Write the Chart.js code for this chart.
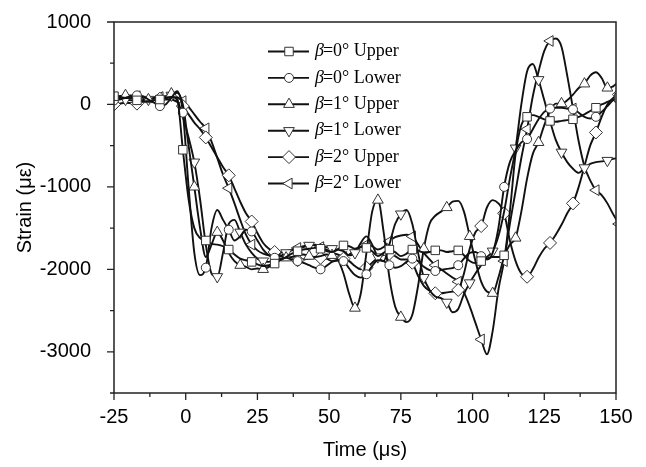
<!DOCTYPE html>
<html lang="en">
<head>
  <meta charset="UTF-8" />
  <title>Strain vs Time</title>
  <script src="https://cdn.jsdelivr.net/npm/chart.js"></script>
  <style>
    html, body { margin: 0; padding: 0; background: #fff; }
    #wrap { width: 646px; height: 467px; }
  </style>
</head>
<body>
<div id="wrap"><canvas id="strainChart" width="646" height="467"></canvas></div>

<script>
  // sample times (µs)
  const time = [-25, -23, -21, -19, -17, -15, -13, -11, -9, -7,
    -5, -3, -1, 1, 3, 5, 7, 9, 11, 13,
    15, 17, 19, 21, 23, 25, 27, 29, 31, 33,
    35, 37, 39, 41, 43, 45, 47, 49, 51, 53,
    55, 57, 59, 61, 63, 65, 67, 69, 71, 73,
    75, 77, 79, 81, 83, 85, 87, 89, 91, 93,
    95, 97, 99, 101, 103, 105, 107, 109, 111, 113,
    115, 117, 119, 121, 123, 125, 127, 129, 131, 133,
    135, 137, 139, 141, 143, 145, 147, 149, 151];

  const xTicks = [-25, 0, 25, 50, 75, 100, 125, 150];
  const yTicks = [-3000, -2000, -1000, 0, 1000];

  const seriesNames = ['β=0° Upper', 'β=0° Lower', 'β=1° Upper', 'β=1° Lower', 'β=2° Upper', 'β=2° Lower'];

  // strain (µε)
  const upper0 = [100, 90, 80, 70, 50, 40, 40, 50, 60, 70,
    90, 60, -550, -1150, -1500, -1620, -1650, -1690, -1700, -1720,
    -1760, -1820, -1870, -1890, -1910, -1940, -1960, -1950, -1930, -1890,
    -1850, -1810, -1780, -1760, -1750, -1740, -1750, -1780, -1790, -1760,
    -1710, -1720, -1750, -1730, -1740, -1780, -1840, -1800, -1760, -1790,
    -1840, -1810, -1760, -1770, -1800, -1790, -1770, -1770, -1790, -1780,
    -1770, -1830, -1900, -1925, -1900, -1870, -1850, -1850, -1830, -1300,
    -600, -250, -150, -130, -150, -180, -200, -210, -200, -190,
    -180, -150, -120, -80, -40, 0, 30, 60, 80];

  const lower0 = [50, 60, 80, 100, 110, 100, 60, 20, -20, 0,
    80, 160, -100, -1000, -1800, -2070, -1980, -1500, -1280, -1400,
    -1520, -1650, -1600, -1520, -1540, -1650, -1760, -1830, -1860, -1870,
    -1860, -1880, -1900, -1920, -1950, -1980, -2000, -1960, -1910, -1890,
    -1900, -1990, -2070, -2100, -2060, -1960, -1890, -1900, -1950, -1980,
    -1960, -1910, -1870, -1900, -1970, -2010, -2020, -2010, -1995, -1985,
    -1950, -1870, -1800, -1790, -1840, -1880, -1800, -1500, -1000, -700,
    -560, -460, -420, -300, -180, -90, -50, -40, -40, -50,
    -60, -100, -150, -170, -150, -90, -20, 50, 80];

  const upper1 = [80, 100, 110, 90, 60, 50, 60, 80, 90, 100,
    130, 140, 0, -500, -1000, -1500, -1850, -1700, -1550, -1650,
    -1800, -1900, -1950, -1970, -2000, -1990, -2000, -1970, -1920, -1880,
    -1860, -1850, -1830, -1820, -1840, -1850, -1840, -1820, -1830, -1880,
    -2050, -2300, -2470, -2300, -1800, -1300, -1160, -1550, -2100, -2450,
    -2580, -2640, -2550, -2200, -1750, -1450, -1350, -1300, -1250, -1180,
    -1170, -1300, -1600, -1900, -2150, -2270, -2290, -2100, -1850, -1700,
    -1620, -1300, -900, -600, -460, -250, -80, 10, 10, 50,
    120, 200, 250, 350, 390, 320, 200, 220, 280];

  const lower1 = [60, 70, 60, 50, 40, 50, 60, 70, 80, 90,
    110, 60, -150, -400, -700, -1150, -1700, -2050, -2090, -1800,
    -1450, -1400, -1550, -1700, -1800, -1870, -1900, -1910, -1880, -1840,
    -1800, -1770, -1750, -1730, -1710, -1700, -1710, -1730, -1750, -1760,
    -1780, -1830, -1800, -1680, -1600, -1700, -1850, -1900, -1700, -1450,
    -1330, -1280, -1450, -1800, -2100, -2250, -2330, -2350, -2400, -2520,
    -2480, -2300, -2165, -2050, -1950, -1850, -1780, -1600, -1300, -900,
    -530, 0, 400, 490, 300, 50, -200, -430, -580, -700,
    -780, -830, -770, -720, -700, -690, -680, -660, -650];

  const upper2 = [0, 10, 20, 15, 10, 30, 60, 70, 70, 60,
    60, 30, -20, -120, -220, -300, -400, -520, -640, -760,
    -860, -1020, -1180, -1320, -1420, -1560, -1680, -1750, -1790, -1830,
    -1870, -1885, -1890, -1880, -1870, -1860, -1860, -1870, -1900, -1890,
    -1870, -1900, -1960, -2000, -1980, -1920, -1860, -1825, -1810, -1840,
    -1880, -1880, -1920, -2080, -2200, -2260, -2290, -2290, -2280, -2270,
    -2250, -2050, -1750, -1550, -1475, -1250, -1160, -1200, -1320, -1650,
    -1900, -2050, -2090, -2000, -1860, -1750, -1680, -1580, -1460, -1320,
    -1200, -1000, -750, -500, -340, -150, 0, 80, 120];

  const lower2 = [85, 100, 110, 110, 100, 80, 70, 80, 90, 90,
    100, 90, 40, -30, -120, -210, -290, -450, -650, -850,
    -1016, -1200, -1400, -1580, -1700, -1770, -1810, -1830, -1820, -1800,
    -1780, -1760, -1740, -1720, -1700, -1710, -1730, -1760, -1800, -1820,
    -1850, -1820, -1770, -1730, -1700, -1720, -1760, -1730, -1660, -1610,
    -1590, -1580, -1600, -1700, -1800, -1880, -1950, -2000, -2050, -2100,
    -2150, -2280, -2450, -2650, -2850, -3030, -2750, -2250, -1900, -1450,
    -1050, -650, -300, 100, 400, 650, 770, 800, 700, 350,
    -50, -450, -750, -920, -1040, -1100, -1200, -1330, -1450];

  // marker style per series: shape, rotation, radius, which sample gets a marker
  const markers = [
    { style: 'rect', rot: 0, r: 6, phase: 0 },
    { style: 'circle', rot: 0, r: 4.5, phase: 0 },
    { style: 'triangle', rot: 0, r: 6.2, phase: 2 },
    { style: 'triangle', rot: 180, r: 6.2, phase: 2 },
    { style: 'rectRot', rot: 0, r: 6.5, phase: 0 },
    { style: 'triangle', rot: 270, r: 6.2, phase: 0 }
  ];

  const allSeries = [upper0, lower0, upper1, lower1, upper2, lower2];
  const sansFont = { family: "'Liberation Sans', Arial, sans-serif", size: 20 };

  const datasets = allSeries.map((vals, k) => {
    const m = markers[k];
    return {
      label: seriesNames[k],
      data: time.map((t, i) => ({ x: t, y: vals[i] })),
      borderColor: '#111',
      borderWidth: 1.9,
      cubicInterpolationMode: 'monotone',
      pointStyle: m.style,
      rotation: m.rot,
      pointRadius: ctx => (ctx.dataIndex % 4 === m.phase ? m.r : 0),
      pointBackgroundColor: '#fff',
      pointBorderColor: '#333',
      pointBorderWidth: 1
    };
  });

  // box frame, outward ticks, and the in-plot legend
  const decor = {
    id: 'decor',
    afterDatasetsDraw(chart) {
      const { ctx, chartArea: a, scales } = chart;
      ctx.save();
      ctx.strokeStyle = '#222';
      ctx.lineWidth = 1.5;
      ctx.strokeRect(a.left, a.top, a.right - a.left, a.bottom - a.top);

      ctx.lineWidth = 1.3;
      ctx.beginPath();
      for (let v = -25; v <= 150; v += 12.5) {
        const px = scales.x.getPixelForValue(v);
        const len = (v % 25 === 0) ? 7 : 4;
        ctx.moveTo(px, a.bottom);
        ctx.lineTo(px, a.bottom + len);
      }
      for (let v = -3500; v <= 1000; v += 500) {
        const py = scales.y.getPixelForValue(v);
        const len = (v % 1000 === 0) ? 7 : 4;
        ctx.moveTo(a.left, py);
        ctx.lineTo(a.left - len, py);
      }
      ctx.stroke();
      ctx.restore();
    },
    afterDraw(chart) {
      const ctx = chart.ctx;
      ctx.save();
      seriesNames.forEach((name, k) => {
        const y = 51.5 + 26.4 * k;
        const m = markers[k];
        ctx.strokeStyle = '#111';
        ctx.lineWidth = 1.9;
        ctx.beginPath();
        ctx.moveTo(268, y);
        ctx.lineTo(309, y);
        ctx.stroke();

        ctx.fillStyle = '#fff';
        ctx.strokeStyle = '#333';
        ctx.lineWidth = 1;
        Chart.helpers.drawPoint(ctx, { pointStyle: m.style, rotation: m.rot, radius: m.r, borderWidth: 1 }, 289, y);

        ctx.fillStyle = '#000';
        ctx.textBaseline = 'middle';
        ctx.textAlign = 'left';
        ctx.font = "italic 18px 'Liberation Serif', 'Times New Roman', serif";
        ctx.fillText(name.charAt(0), 315, y);
        const w = ctx.measureText(name.charAt(0)).width;
        ctx.font = "18px 'Liberation Serif', 'Times New Roman', serif";
        ctx.fillText(name.slice(1), 315 + w - 1, y);
      });
      ctx.restore();
    }
  };

  new Chart(document.getElementById('strainChart'), {
    type: 'line',
    data: { datasets: datasets },
    options: {
      responsive: false,
      animation: false,
      devicePixelRatio: 1,
      layout: { padding: { top: 22, right: 30, left: 0, bottom: 0 } },
      plugins: { legend: { display: false }, tooltip: { enabled: false } },
      scales: {
        x: {
          type: 'linear',
          min: -25,
          max: 150,
          afterBuildTicks: s => { s.ticks = xTicks.map(v => ({ value: v })); },
          afterFit: s => { s.height = 74; s.paddingLeft = 0; s.paddingRight = 0; },
          grid: { display: false },
          border: { display: false },
          ticks: { color: '#000', font: sansFont, padding: 4, maxRotation: 0, autoSkip: false, callback: v => String(v) },
          title: { display: true, text: 'Time (μs)', color: '#000', font: sansFont, padding: { top: 0, bottom: 5 } }
        },
        y: {
          type: 'linear',
          min: -3500,
          max: 1000,
          afterBuildTicks: s => { s.ticks = yTicks.map(v => ({ value: v })); },
          afterFit: s => { s.width = 114; s.paddingTop = 0; s.paddingBottom = 0; },
          grid: { display: false },
          border: { display: false },
          ticks: { color: '#000', font: sansFont, padding: 15, callback: v => String(v) },
          title: { display: true, text: 'Strain (με)', color: '#000', font: sansFont, padding: { top: 13, bottom: 0 } }
        }
      }
    },
    plugins: [decor]
  });
</script>
</body>
</html>
